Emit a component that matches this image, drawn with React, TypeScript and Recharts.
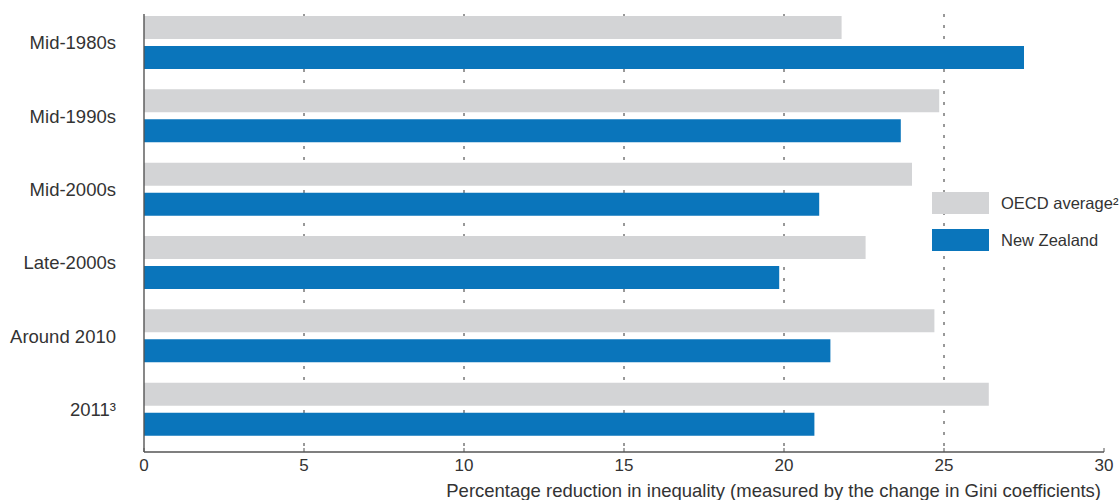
import { BarChart, Bar, XAxis, YAxis, CartesianGrid, Legend, Label } from "recharts";

const PERIODS = ["Mid-1980s", "Mid-1990s", "Mid-2000s", "Late-2000s", "Around 2010", "2011³"];
const OECD_AVERAGE = [21.8, 24.85, 24.0, 22.55, 24.7, 26.4];
const NEW_ZEALAND = [27.5, 23.65, 21.1, 19.85, 21.45, 20.95];
const X_TICKS = [0, 5, 10, 15, 20, 25, 30];
const GRID_LINES = [5, 10, 15, 20, 25];
const SERIES_NAMES = ["OECD average²", "New Zealand"];

const GREY = "#d3d4d6";
const BLUE = "#0a75bb";
const TEXT = "#333333";
const AXIS = "#555555";
const FONT = "'Liberation Sans', Arial, Helvetica, sans-serif";

const data = PERIODS.map((period, i) => ({
  period,
  oecd: OECD_AVERAGE[i],
  nz: NEW_ZEALAND[i],
}));

function LegendBox() {
  const items = [
    { label: SERIES_NAMES[0], color: GREY },
    { label: SERIES_NAMES[1], color: BLUE },
  ];
  return (
    <div style={{ fontFamily: FONT, fontSize: 16.5, color: TEXT }}>
      {items.map((it) => (
        <div key={it.label} style={{ display: "flex", alignItems: "center", height: 22, marginBottom: 15 }}>
          <div style={{ width: 57, height: 22, background: it.color }} />
          <span style={{ marginLeft: 12, whiteSpace: "nowrap" }}>{it.label}</span>
        </div>
      ))}
    </div>
  );
}

export default function App() {
  return (
    <div style={{ position: "absolute", left: 0, top: 0, background: "#fff" }}>
      <BarChart
        width={1120}
        height={500}
        data={data}
        layout="vertical"
        margin={{ top: 14, right: 16, bottom: 0, left: 0 }}
        barGap={7}
        barCategoryGap={0}
      >
        <CartesianGrid
          horizontal={false}
          vertical
          verticalValues={GRID_LINES}
          stroke="#333"
          strokeDasharray="3 8"
          strokeWidth={1}
        />
        <XAxis
          type="number"
          domain={[0, 30]}
          ticks={X_TICKS}
          interval={0}
          height={48}
          axisLine={{ stroke: AXIS, strokeWidth: 1.4 }}
          tickLine={{ stroke: AXIS }}
          tickSize={-4}
          tickMargin={11}
          tick={{ fill: TEXT, fontSize: 17, fontFamily: FONT }}
        >
          <Label
            value="Percentage reduction in inequality (measured by the change in Gini coefficients)"
            position="insideBottomRight"
            offset={3}
            fill={TEXT}
            fontSize={18.5}
            fontFamily={FONT}
          />
        </XAxis>
        <YAxis
          type="category"
          dataKey="period"
          width={144}
          padding={{ top: -8, bottom: 6 }}
          axisLine={{ stroke: AXIS, strokeWidth: 1.4 }}
          tickLine={false}
          tickSize={0}
          tickMargin={28}
          tick={{ fill: TEXT, fontSize: 18.5, fontFamily: FONT }}
        />
        <Legend
          layout="horizontal"
          verticalAlign="middle"
          align="center"
          content={() => <LegendBox />}
          wrapperStyle={{ left: 932, top: 192, width: 190 }}
        />
        <Bar dataKey="oecd" name={SERIES_NAMES[0]} fill={GREY} barSize={23} isAnimationActive={false} />
        <Bar dataKey="nz" name={SERIES_NAMES[1]} fill={BLUE} barSize={23} isAnimationActive={false} />
      </BarChart>
    </div>
  );
}
